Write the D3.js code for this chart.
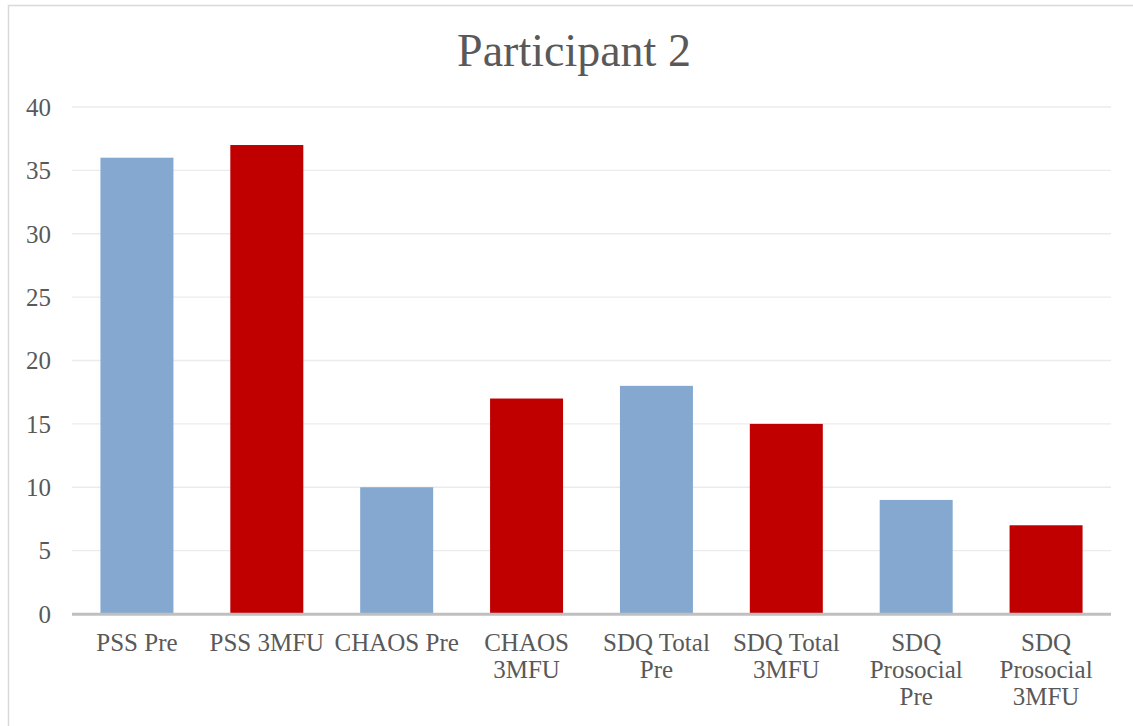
<!DOCTYPE html>
<html><head><meta charset="utf-8">
<script src="https://cdn.jsdelivr.net/npm/d3@7"></script>
<style>html,body{margin:0;padding:0;background:#fff;}svg{display:block;}</style>
</head><body>
<svg id="chart" width="1133" height="726"></svg>
<script>
const categories = ["PSS Pre","PSS 3MFU","CHAOS Pre","CHAOS 3MFU","SDQ Total Pre","SDQ Total 3MFU","SDQ Prosocial Pre","SDQ Prosocial 3MFU"];
const categoryLines = [["PSS Pre"],["PSS 3MFU"],["CHAOS Pre"],["CHAOS","3MFU"],["SDQ Total","Pre"],["SDQ Total","3MFU"],["SDQ","Prosocial","Pre"],["SDQ","Prosocial","3MFU"]];
const values = [36,37,10,17,18,15,9,7];
const phase = ["Pre","3MFU","Pre","3MFU","Pre","3MFU","Pre","3MFU"];
const yTicks = [0,5,10,15,20,25,30,35,40];
const title = "Participant 2";

const colors = {Pre:"#84a8d0", "3MFU":"#c00000"};
const svg = d3.select("#chart");
const font = "'Liberation Serif','Times New Roman',serif";
const textColor = "#595959";

// outer border
svg.append("rect").attr("x",8.5).attr("y",5.5).attr("width",1140).attr("height",740)
  .attr("fill","none").attr("stroke","#d9d9d9").attr("stroke-width",1.5);

const x = d3.scaleBand().domain(categories).range([72,1111]).paddingInner(0.438).paddingOuter(0.219);
const y = d3.scaleLinear().domain([0,40]).range([614,107]);

// gridlines
svg.append("g").selectAll("line").data(yTicks.filter(d=>d>0)).join("line")
  .attr("x1",72).attr("x2",1111).attr("y1",d=>y(d)).attr("y2",d=>y(d))
  .attr("stroke","#ebebeb").attr("stroke-width",1.3);

// y tick labels
svg.append("g").selectAll("text").data(yTicks).join("text")
  .attr("x",51).attr("y",d=>y(d)).attr("dy","0.35em").attr("text-anchor","end")
  .attr("font-family",font).attr("font-size",25).attr("fill",textColor).text(d=>d);

// bars
svg.append("g").selectAll("rect").data(values).join("rect")
  .attr("x",(d,i)=>x(categories[i])).attr("width",x.bandwidth())
  .attr("y",d=>y(d)).attr("height",d=>y(0)-y(d))
  .attr("fill",(d,i)=>colors[phase[i]]);

// x axis line
svg.append("line").attr("x1",72).attr("x2",1111).attr("y1",614.3).attr("y2",614.3)
  .attr("stroke","#bfbfbf").attr("stroke-width",3);

// category labels
const cl = svg.append("g").selectAll("text").data(categories).join("text")
  .attr("text-anchor","middle").attr("font-family",font).attr("font-size",25).attr("fill",textColor);
cl.each(function(c,i){
  const t = d3.select(this);
  categoryLines[i].forEach((ln,j)=>{
    t.append("tspan").attr("x",x(c)+x.bandwidth()/2).attr("y",651+27*j).text(ln);
  });
});

// title
svg.append("text").attr("x",574).attr("y",66).attr("text-anchor","middle")
  .attr("font-family",font).attr("font-size",46).attr("fill",textColor).text(title);
</script>
</body></html>
